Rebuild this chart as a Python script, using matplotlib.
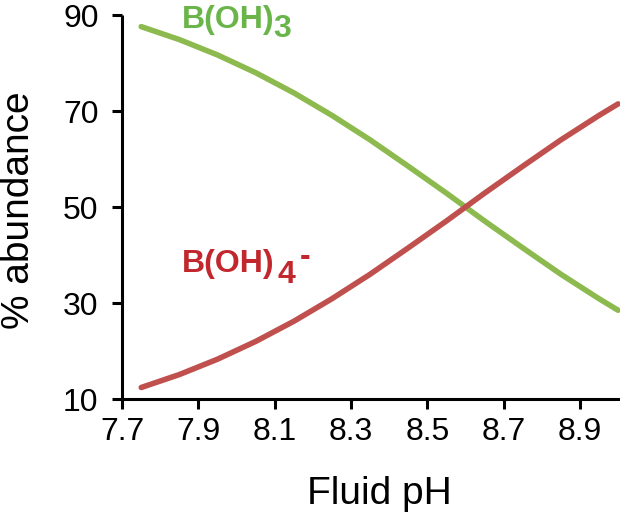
import matplotlib
matplotlib.use("Agg")
import matplotlib.pyplot as plt

plt.rcParams['font.family'] = ['Liberation Sans', 'DejaVu Sans']

ph = [7.75, 7.85, 7.95, 8.05, 8.15, 8.25, 8.35, 8.45, 8.55, 8.65, 8.75, 8.85, 8.95, 9.0]
borate = [12.4, 15.1, 18.3, 22.0, 26.2, 30.9, 36.0, 41.5, 47.1, 52.9, 58.5, 64.0, 69.1, 71.5]
boric = [87.6, 84.9, 81.7, 78.0, 73.8, 69.1, 64.0, 58.5, 52.9, 47.1, 41.5, 36.0, 30.9, 28.5]
xticks = [7.7, 7.9, 8.1, 8.3, 8.5, 8.7, 8.9]
yticks = [10, 30, 50, 70, 90]

fig = plt.figure(figsize=(6.2, 5.16), dpi=100)
ax = fig.add_axes([0.197, 0.2267, 0.803, 0.744])
ax.plot(ph, boric, color='#8DBA4F', lw=4.0, solid_capstyle='round')
ax.plot(ph, borate, color='#C0504D', lw=4.0, solid_capstyle='round')
ax.set_xlim(7.7, 9.005)
ax.set_ylim(10, 90)
ax.set_xticks(xticks)
ax.set_xticklabels([f"{v:.1f}" for v in xticks])
ax.set_yticks(yticks)
for s in ['top', 'right']:
    ax.spines[s].set_visible(False)
for s in ['left', 'bottom']:
    ax.spines[s].set_linewidth(2.2)
    ax.spines[s].set_capstyle('butt')
ax.tick_params(direction='out', length=7, width=2.2, labelsize=23)
ax.tick_params(axis='x', pad=6)
ax.tick_params(axis='y', pad=10)
ax.set_xlabel('Fluid pH', fontsize=28)
ax.set_ylabel('% abundance', fontsize=28)
ax.xaxis.set_label_coords(0.516, -0.2)
ax.yaxis.set_label_coords(-0.172, 0.492)

kw = dict(fontsize=23, fontweight='bold', ha='left', va='baseline', clip_on=False)
green_txt = '#6AB54A'
red_txt = '#C1272D'
ax.text(7.857, 87.3, 'B(OH)', color=green_txt, **kw)
ax.text(8.097, 85.4, '3', color=green_txt, **kw)
ax.text(7.857, 36.5, 'B(OH)', color=red_txt, **kw)
ax.text(8.107, 34.2, '4', color=red_txt, **kw)
ax.text(8.165, 39.6, '-', color=red_txt, fontsize=23, fontweight='bold', ha='left', va='center')

fig.savefig('out.png', dpi=100)
